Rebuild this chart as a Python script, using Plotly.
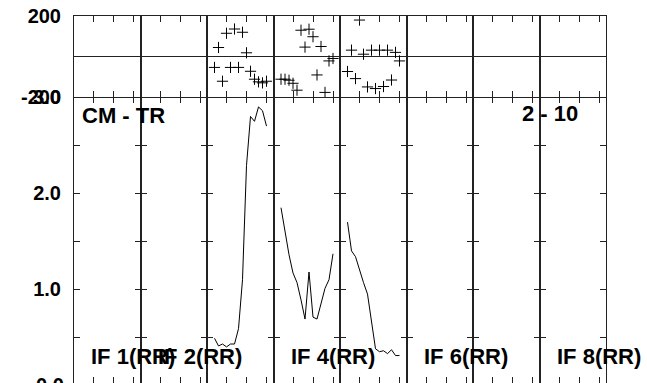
import plotly.graph_objects as go
from plotly.subplots import make_subplots

# ---------------- data ----------------
channels = list(range(1, 15))
data_columns = [3, 4, 5]
phase_if3 = [-53, 45, -121, 115, -53, 136, -53, 120, 19, -72, -111, -124, -129, -121]
phase_if4 = [-111, -111, -116, -131, -165, 130, 47, 135, 98, -90, 50, -176, -21, -9]
phase_if5 = [-73, 32, -108, 180, 12, -149, 32, -157, 32, -147, 32, -115, 21, -21]
amp_if3 = [0.49, 0.41, 0.43, 0.40, 0.43, 0.43, 0.59, 1.10, 2.29, 2.80, 2.75, 2.90, 2.86, 2.70]
amp_if4 = [1.85, 1.61, 1.36, 1.17, 1.07, 0.89, 0.69, 1.18, 0.71, 0.69, 0.85, 1.01, 1.10, 1.37]
amp_if5 = [1.70, 1.40, 1.34, 1.20, 1.07, 0.95, 0.66, 0.38, 0.35, 0.36, 0.33, 0.37, 0.31, 0.31]

if_labels = ["IF 1(RR)", "IF 2(RR)", "IF 4(RR)", "IF 6(RR)", "IF 8(RR)"]
if_label_columns = [1, 2, 4, 6, 8]
phase_tickvals = [-200, 200]
phase_ticktext = ["-200", "200"]
amp_tickvals = [0.5, 1.0, 1.5, 2.0, 2.5, 3.0]
amp_ticktext = ["", "1.0", "", "2.0", "", "3.0"]
bottom_label = "0.0"
baseline_label = "CM - TR"
source_label = "2 - 10"

# ---------------- layout geometry ----------------
W, H = 647, 383
ML, MR, MT, MB = 74, 41, 16, 0
PW, PH = W - ML - MR, H - MT - MB
NCOL = 8
COLW = PW / NCOL
AMP_PX = 96.0            # pixels per amplitude unit
AMP_ZERO_PY = 385.3      # pixel row of amplitude 0 (just below the window)
amp_min = (AMP_ZERO_PY - H) / AMP_PX
top_h = 81.3
row_heights = [top_h, PH - top_h]

FONT = "Liberation Sans, Arial, Helvetica, sans-serif"
LINE = "#222222"

fig = make_subplots(rows=2, cols=NCOL, horizontal_spacing=0, vertical_spacing=0,
                    row_heights=row_heights)

# empty traces so every panel keeps its frame
for r in (1, 2):
    for c in range(1, NCOL + 1):
        fig.add_trace(go.Scatter(x=[], y=[], mode="lines", showlegend=False,
                                 hoverinfo="skip"), row=r, col=c)

for col, ph, amp in zip(data_columns, [phase_if3, phase_if4, phase_if5],
                        [amp_if3, amp_if4, amp_if5]):
    fig.add_trace(go.Scatter(x=channels, y=ph, mode="markers",
                             marker=dict(symbol="cross-thin", size=8, color="black",
                                         line=dict(color="black", width=1)),
                             showlegend=False, hoverinfo="skip"), row=1, col=col)
    fig.add_trace(go.Scatter(x=channels, y=amp, mode="lines",
                             line=dict(color="black", width=1),
                             showlegend=False, hoverinfo="skip"), row=2, col=col)

tickfont = dict(family=FONT, size=20, color="black", weight="bold")

for c in range(1, NCOL + 1):
    for r in (1, 2):
        fig.update_xaxes(visible=True, range=[-0.875, 15.75], tickvals=[4, 9, 14],
                         ticks="inside", ticklen=6, tickcolor=LINE, tickwidth=1,
                         showticklabels=False, showgrid=False, zeroline=False,
                         showline=(r == 1), mirror="ticks", linecolor=LINE, linewidth=1,
                         row=r, col=c)
    fig.update_yaxes(visible=True, range=[-200, 200], tickvals=phase_tickvals,
                     ticktext=phase_ticktext,
                     ticks="", showticklabels=(c == 1), tickfont=tickfont,
                     ticklabelstandoff=8,
                     showgrid=False, zeroline=True, zerolinecolor=LINE, zerolinewidth=1,
                     showline=True, mirror=True, linecolor=LINE, linewidth=1,
                     row=1, col=c)
    fig.update_yaxes(visible=True, range=[amp_min, 3.0], tickvals=amp_tickvals,
                     ticktext=amp_ticktext,
                     ticks="inside", ticklen=6, tickcolor=LINE, tickwidth=1,
                     showticklabels=(c == 1), tickfont=tickfont, ticklabelstandoff=8,
                     showgrid=False, zeroline=False,
                     showline=True, mirror="ticks", linecolor=LINE, linewidth=1,
                     row=2, col=c)


def px_x(px):
    return (px - ML) / PW


def px_y(py):
    return (H - MB - py) / PH


annfont = dict(family=FONT, size=22, color="black", weight="bold")
anns = []
for lab, c in zip(if_labels, if_label_columns):
    anns.append(dict(text=lab, xref="paper", yref="paper",
                     x=px_x(ML + (c - 1) * COLW + 15), y=px_y(356),
                     xanchor="left", yanchor="middle", showarrow=False, font=annfont))
anns.append(dict(text=baseline_label, xref="paper", yref="paper", x=px_x(80), y=px_y(115),
                 xanchor="left", yanchor="middle", showarrow=False, font=annfont))
anns.append(dict(text=source_label, xref="paper", yref="paper", x=px_x(520), y=px_y(114),
                 xanchor="left", yanchor="middle", showarrow=False, font=annfont))
anns.append(dict(text=bottom_label, xref="paper", yref="paper", x=0, xshift=-8,
                 y=px_y(AMP_ZERO_PY), xanchor="right", yanchor="middle",
                 showarrow=False, font=tickfont))

fig.update_layout(width=W, height=H,
                  margin=dict(l=ML, r=MR, t=MT, b=MB, pad=0, autoexpand=False),
                  paper_bgcolor="white", plot_bgcolor="white",
                  font=dict(family=FONT, color="black"),
                  showlegend=False, annotations=anns)

fig.write_html("out.html", config={"displayModeBar": False},
               post_script="document.body.style.margin='0';document.body.style.overflow='hidden';")
